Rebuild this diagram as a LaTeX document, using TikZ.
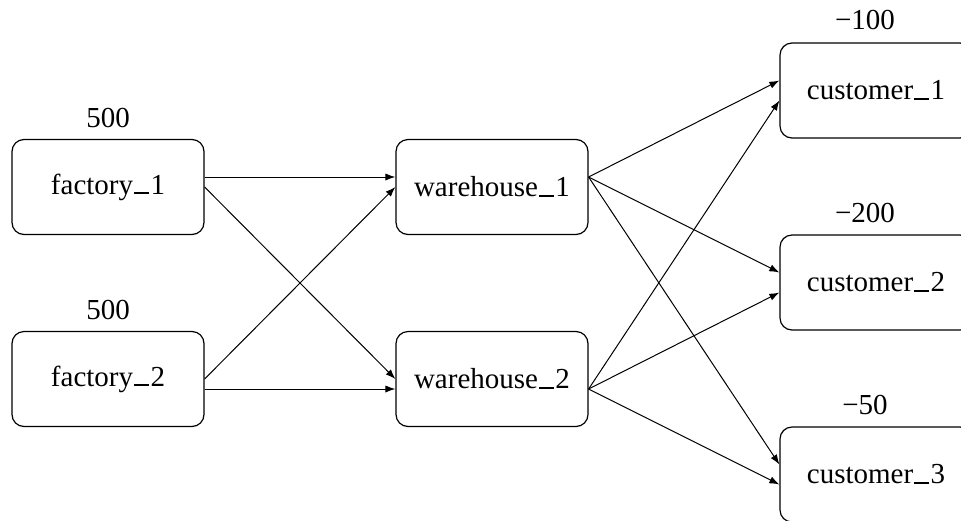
\documentclass[tikz,border=0pt]{standalone}
\usepackage{fontspec}
\setmainfont{Liberation Serif}
\usetikzlibrary{arrows.meta}
\newcommand\myus{\kern0.04em\rule[0pt]{0.5em}{0.055em}\kern0.06em}
\begin{document}
\begin{tikzpicture}[x=0.5pt,y=-0.5pt,
  box/.style={draw, line width=0.6pt, rounded corners=6pt, minimum width=96pt, minimum height=47.5pt, inner sep=0pt, font=\fontsize{14.5}{17}\selectfont},
  lbl/.style={font=\fontsize{14.5}{17}\selectfont, inner sep=0pt},
  edge/.style={draw, line width=0.5pt, -{Latex[length=5pt,width=3.6pt]}}]
\useasboundingbox (0,0) rectangle (961,520);
\node[box] (f1) at (108,187) {factory\myus 1};
\node[box] (f2) at (108,379) {factory\myus 2};
\node[box] (w1) at (492,187) {warehouse\myus 1};
\node[box] (w2) at (492,379) {warehouse\myus 2};
\node[box] (c1) at (876,90.5) {customer\myus 1};
\node[box] (c2) at (876,282.5) {customer\myus 2};
\node[box] (c3) at (876,474.5) {customer\myus 3};
\node[lbl] (l1) at (108,118) {500};
\node[lbl] (l2) at (108,310) {500};
\node[lbl] (l3) at (865,20) {−100};
\node[lbl] (l4) at (865,213) {−200};
\node[lbl] (l5) at (865,405) {−50};
\path[edge] ([yshift=5pt]f1.east) -- ([yshift=5pt]w1.west);
\path[edge] (f1.east) -- (w2.west);
\path[edge] (f2.east) -- (w1.west);
\path[edge] ([yshift=-5pt]f2.east) -- ([yshift=-5pt]w2.west);
\path[edge] ([yshift=5pt]w1.east) -- ([yshift=5pt]c1.west);
\path[edge] ([yshift=5pt]w1.east) -- ([yshift=5pt]c2.west);
\path[edge] ([yshift=5pt]w1.east) -- ([yshift=5pt]c3.west);
\path[edge] ([yshift=-5pt]w2.east) -- ([yshift=-5pt]c1.west);
\path[edge] ([yshift=-5pt]w2.east) -- ([yshift=-5pt]c2.west);
\path[edge] ([yshift=-5pt]w2.east) -- ([yshift=-5pt]c3.west);
\end{tikzpicture}
\end{document}
